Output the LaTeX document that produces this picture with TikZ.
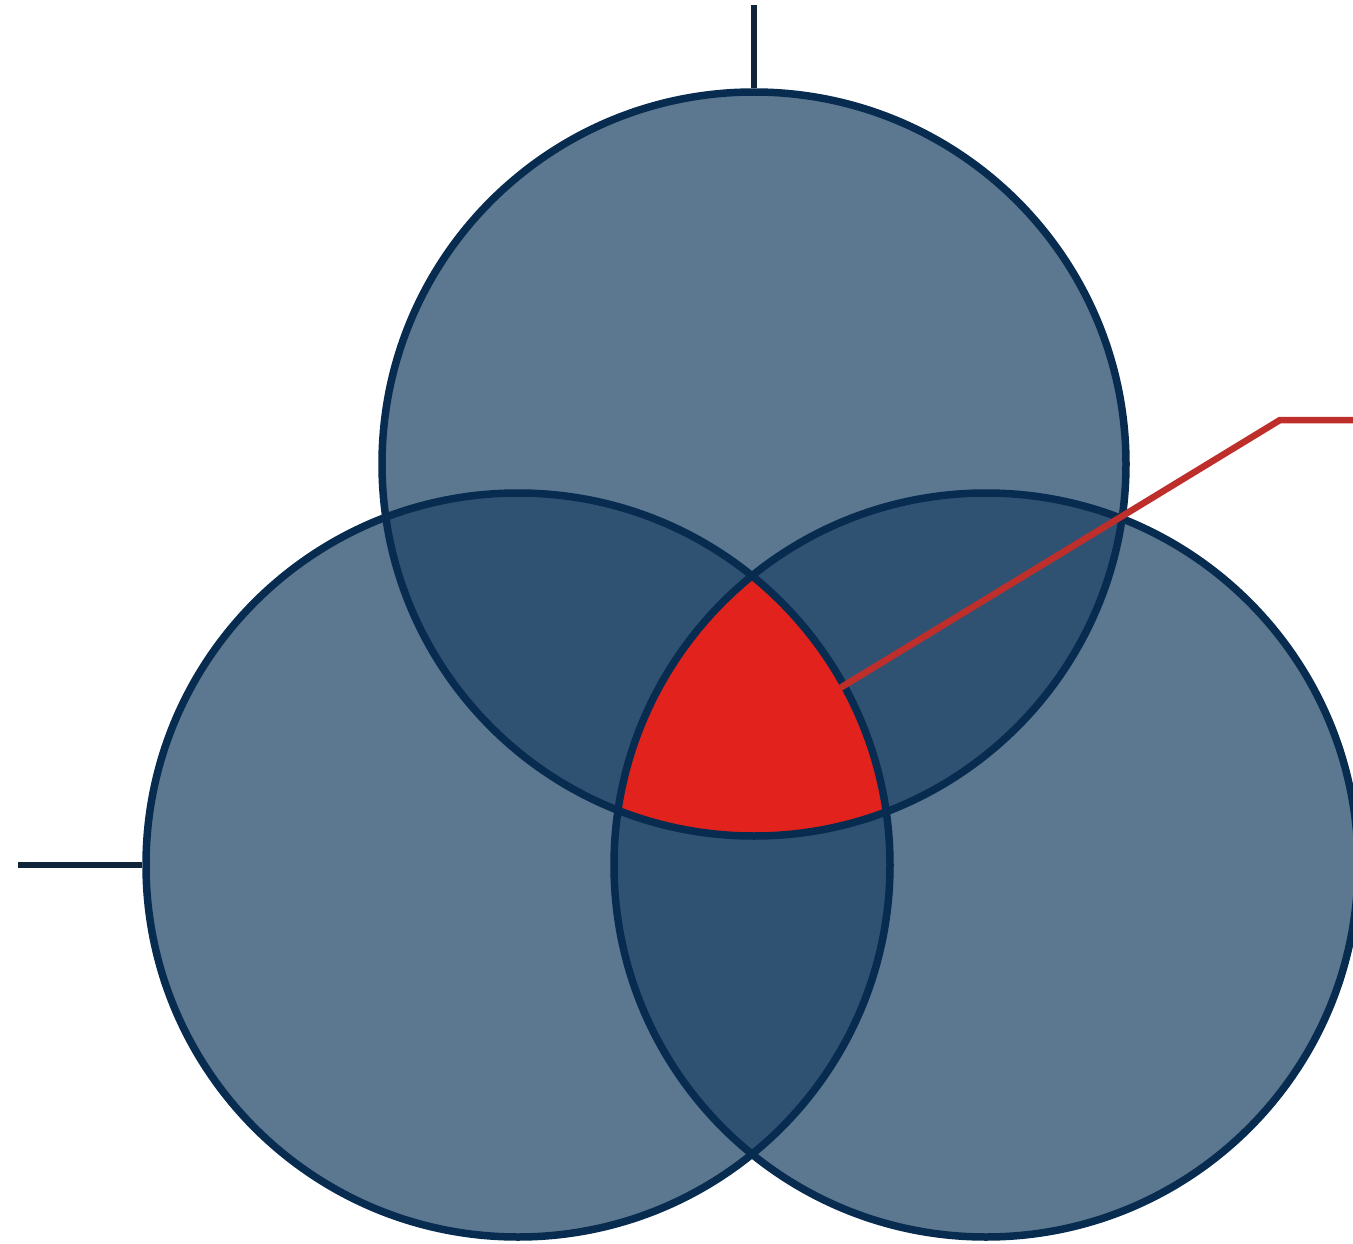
\documentclass[tikz,border=0pt]{standalone}
\definecolor{basefill}{HTML}{5B7890}
\definecolor{lensfill}{HTML}{2F5172}
\definecolor{edge}{HTML}{082C50}
\definecolor{hot}{HTML}{E2231D}
\definecolor{hotline}{HTML}{BE2F2C}
\definecolor{lead}{HTML}{10243A}
\begin{document}
\begin{tikzpicture}[x=1pt,y=1pt,
  set/.style={circle,minimum size=744pt,inner sep=0pt,draw=edge,line width=7.5pt},
  leadline/.style={draw=lead,line width=5.5pt},
  callout/.style={draw=hotline,line width=6.5pt,line join=miter}]
\useasboundingbox[fill=white] (0,0) rectangle (1353,-1244);
\def\R{372}
% filled discs
\fill[basefill] (754,-464) circle (\R);
\fill[basefill] (518,-865) circle (\R);
\fill[basefill] (986,-865) circle (\R);
% pairwise lenses
\begin{scope}\clip (754,-464) circle (\R); \fill[lensfill] (518,-865) circle (\R); \end{scope}
\begin{scope}\clip (754,-464) circle (\R); \fill[lensfill] (986,-865) circle (\R); \end{scope}
\begin{scope}\clip (518,-865) circle (\R); \fill[lensfill] (986,-865) circle (\R); \end{scope}
% triple region
\begin{scope}\clip (754,-464) circle (\R); \clip (518,-865) circle (\R); \fill[hot] (986,-865) circle (\R); \end{scope}
% connectors (behind outlines)
\node[set,draw=none] (T) at (754,-464) {};
\node[set,draw=none] (L) at (518,-865) {};
\node[set,draw=none] (Rc) at (986,-865) {};
\coordinate (topend) at (754,-5);
\coordinate (leftend) at (18,-865);
\coordinate (core) at (840,-688);
\coordinate (bend) at (1280,-420);
\coordinate (rightend) at (1353,-420);
\draw[leadline] (T.north) -- (topend);
\draw[leadline] (L.west) -- (leftend);
% outlines
\draw[edge,line width=7.5pt] (T.center) circle (\R);
\draw[edge,line width=7.5pt] (L.center) circle (\R);
\draw[edge,line width=7.5pt] (Rc.center) circle (\R);
\draw[callout] (core) -- (bend) -- (rightend);
\end{tikzpicture}
\end{document}
